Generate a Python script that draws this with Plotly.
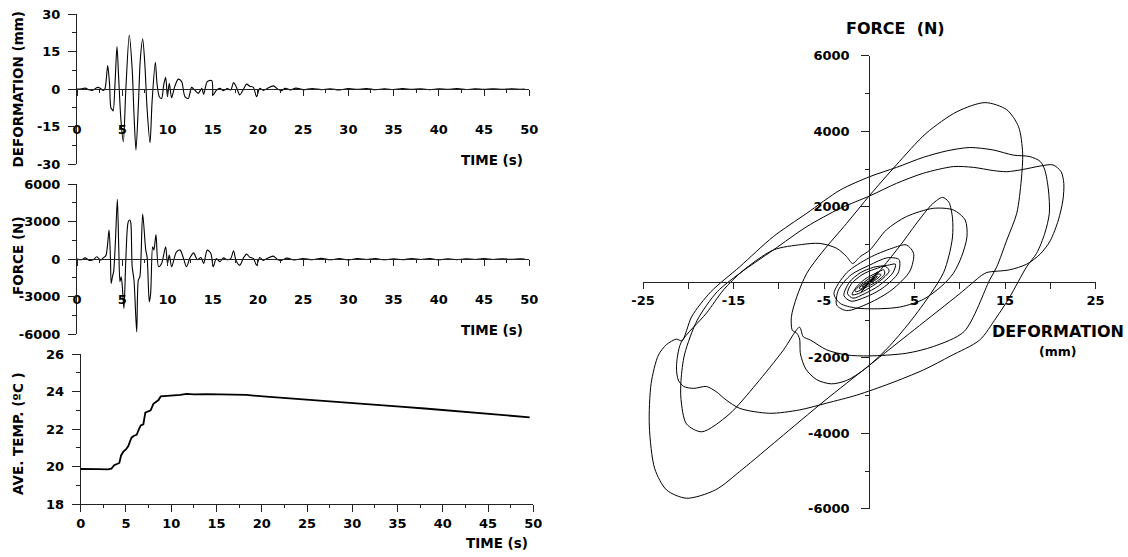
import plotly.graph_objects as go

W, H = 1128, 557

# ---------------- data ----------------
DEF_TIME = [0.0, 0.5, 0.9, 1.3, 1.7, 2.0, 2.3, 2.6, 2.9, 3.1, 3.39, 3.6, 3.75, 3.9, 4.0, 4.2, 4.42,
            4.6, 4.85, 5.12, 5.4, 5.78, 6.1, 6.3, 6.52, 6.8, 7.0, 7.26, 7.5, 7.75, 8.07, 8.3, 8.66,
            8.85, 9.1, 9.35, 9.6, 9.8, 10.0, 10.2, 10.46, 10.8, 11.2, 11.57, 11.93, 12.3, 12.67,
            13.0, 13.4, 13.8, 14.0, 14.4, 14.9, 15.06, 15.4, 15.8, 16.2, 16.6, 17.0, 17.3, 17.6,
            18.0, 18.4, 18.75, 19.1, 19.5, 19.85, 20.2, 20.6, 21.0, 21.7, 22.2, 22.6, 23.0, 23.6,
            24.2, 25.0, 26.0, 27.0, 28.0, 29.0, 30.0, 31.0, 32.0, 33.0, 34.0, 35.0, 36.0, 37.0,
            38.0, 39.0, 40.0, 41.0, 42.0, 43.0, 44.0, 45.0, 46.0, 47.0, 48.0, 49.0, 49.5]
DEF_MM = [0.0, 0.1, 0.4, -0.2, -0.5, 0.2, 0.7, 0.3, -0.5, 0.3, 9.4, 2.0, -7.5, -8.2, -8.7, 2.0, 17.0,
          5.0, -12.0, -21.0, 0.0, 21.6, 8.0, -10.0, -24.3, -5.0, 12.0, 20.0, 10.0, -8.0, -21.4, -5.0, 10.7,
          2.0, -3.0, -3.7, 2.0, 4.7, -3.0, 2.3, -3.4, 1.0, 4.0, 3.0, -3.0, -3.7, 0.7,
          -0.3, -1.7, 0.3, -2.1, 3.0, 3.4, -2.3, -0.5, 0.3, -0.6, 0.2, -0.3, 2.6, 1.0,
          -2.3, 0.0, 2.0, 1.2, 0.7, -3.0, 0.3, -0.5, 0.2, 1.3, 0.0, -0.6, 0.3, -0.3,
          0.4, -0.2, 0.2, -0.2, 0.1, -0.3, 0.2, -0.1, 0.25, -0.2, 0.1, -0.15, 0.2, -0.1,
          0.15, -0.2, 0.1, -0.1, 0.2, -0.15, 0.1, -0.1, 0.15, -0.1, 0.1, -0.05, 0.0]

FORCE_TIME = [0.0, 0.5, 0.9, 1.4, 1.8, 2.2, 2.6, 2.9, 3.2, 3.54, 3.7, 3.78, 3.93, 4.05, 4.25, 4.46,
              4.62, 4.75, 4.88, 5.0, 5.19, 5.4, 5.67, 5.85, 5.95, 6.1, 6.3, 6.6, 6.78, 6.95, 7.26,
              7.6, 7.75, 7.99, 8.14, 8.36, 8.5, 8.73, 9.02, 9.35, 9.8, 10.0, 10.2, 10.46, 10.8,
              11.0, 11.4, 11.8, 12.1, 12.5, 12.9, 13.3, 13.7, 14.0, 14.4, 14.8, 15.06, 15.4, 15.8,
              16.2, 16.6, 17.0, 17.3, 17.6, 18.0, 18.4, 18.75, 19.1, 19.5, 19.85, 20.2, 20.6, 21.0,
              21.7, 22.2, 22.6, 23.2, 24.0, 25.0, 26.0, 27.0, 28.0, 29.0, 30.0, 31.0, 32.0, 33.0,
              34.0, 35.0, 36.0, 37.0, 38.0, 39.0, 40.0, 41.0, 42.0, 43.0, 44.0, 45.0, 46.0, 47.0,
              48.0, 49.0, 49.5]
FORCE_N = [0, -50, 100, -100, -50, 190, -80, 100, 300, 2320, 0, -1950, -1350, -1000, 1500, 4770,
           800, -1800, -1400, -2100, -3950, 0, 2990, 3120, 2900, -600, -1680, -5810, -1680, -1400, 3600,
           720, 180, -3410, -2750, 990, 720, 1970, -610, -350, 990, -350, 320, -610, 200,
           590, 720, 0, -610, 130, 500, -50, 130, -350, 720, 450, -610, 50, -200,
           100, -50, 50, 670, -150, -480, 100, 400, 150, 50, -480, 130, -100, 50,
           240, -50, -100, 80, -60, 50, -40, 60, -50, 40, -60, 50, -30, 40,
           -50, 30, -40, 50, -30, 40, -50, 30, -40, 30, -30, 40, -30, 30,
           -20, 20, 0]

TEMP_TIME = [0.0, 1.0, 2.0, 3.0, 3.4, 3.7, 4.05, 4.27, 4.46, 4.71, 5.0, 5.26, 5.45, 5.63, 5.89,
             6.18, 6.44, 6.63, 6.92, 7.14, 7.47, 7.73, 8.03, 8.39, 8.6, 8.84, 9.5, 10.24, 11.0,
             11.7, 12.5, 13.9, 16.1, 18.3, 20.5, 22.5, 24.2, 26.0, 28.0, 29.75, 32.0, 35.28,
             38.0, 40.8, 43.0, 46.3, 48.0, 49.6]
TEMP_C = [19.88, 19.86, 19.87, 19.86, 19.9, 20.08, 20.15, 20.2, 20.6, 20.8, 20.92, 21.1, 21.35,
          21.56, 21.65, 21.7, 22.0, 22.2, 22.26, 22.88, 22.95, 23.0, 23.35, 23.45, 23.55, 23.75,
          23.76, 23.8, 23.82, 23.88, 23.85, 23.86, 23.85, 23.82, 23.73, 23.66, 23.59, 23.53,
          23.48, 23.43, 23.33, 23.2, 23.1, 22.99, 22.9, 22.76, 22.7, 22.63]

HYST_DEF_MM = [
    0.0, 0.5, 0.9, 0.4, -0.4, -0.9, -0.3, 0.4, 0.2,
    1.5, 3.5, 5.5, 7.0, 8.1, 8.8, 9.2, 9.2, 8.8, 8.2,
    6.8, 4.5, 2.0, -0.5, -2.5, -4.2, -5.8, -7.0, -7.6, -7.7, -8.0, -8.5,
    -8.6, -8.0, -6.9, -5.2, -2.5, 0.07, 3.0, 6.3, 9.7, 12.8, 15.2, 16.5, 16.95, 16.8, 16.3, 15.2, 14.1, 13.3,
    10.5, 7.1, 4.1, 0.0, -2.5, -4.7, -6.5, -7.3, -7.7,
    -9.5, -12.5, -15.5, -18.5, -20.2, -20.8, -20.8,
    -20.4, -19.0, -16.8, -14.3, -10.6, -6.9, -3.2, 0.07, 3.0, 6.0, 9.3, 11.5, 13.7, 15.2, 17.0, 18.9, 20.3, 21.2, 21.5,
    21.4, 20.9, 20.0, 18.9, 17.4, 15.5, 13.0, 12.4, 10.0, 5.0, 0.0, -5.0, -10.0, -14.0, -17.0, -20.2,
    -22.4, -23.7, -24.3, -24.1, -23.3, -22.4, -21.3, -20.7,
    -19.6, -17.5, -14.3, -10.6, -6.9, -3.2, 0.07, 3.02, 5.97, 8.55, 11.1, 13.7, 15.9, 17.75, 18.9, 19.4, 19.8, 19.9, 19.4, 18.5, 17.4,
    15.5, 14.0, 12.2, 9.0, 6.0, 2.3, -1.4, -4.7, -7.7, -11.0, -14.3, -15.8, -16.9, -18.0, -19.4, -20.5, -21.1, -21.3,
    -20.8, -18.0, -16.1, -14.0, -10.6, -7.5, -5.45, -3.6, -2.5, -1.84, -1.0, 0.07, 1.9, 4.1, 7.1, 9.3, 10.6, 10.8, 10.2, 9.3,
    8.0, 6.0, 3.5, 1.2, -1.5, -3.2, -3.9,
    -2.5, 0.0, 2.5, 4.1, 4.9, 4.5, 2.5, 0.0, -2.5, -3.6, -3.4, -2.0, 0.0, 2.0, 3.3, 3.2, 1.5, 0.0, -2.0, -2.8,
    -2.2, -1.0, 0.5, 2.0, 2.9, 2.6, 1.0, -0.5, -1.8, -2.4, -2.0, -0.8, 0.6, 1.8, 2.2, 1.4, 0.0, -1.2, -1.9,
    -1.5, -0.5, 0.8, 1.6, 1.7, 0.8, -0.5, -1.4, -1.6, -1.0, 0.0, 1.0, 1.3, 0.8, -0.3, -1.0, -1.1,
    -0.5, 0.4, 0.9, 0.7, 0.0, -0.7, -0.8, -0.3, 0.4, 0.6, 0.2, -0.3, -0.4, 0.0, 0.3, 0.0]
HYST_FORCE_N = [
    0, 150, 280, 120, -120, -260, -80, 100, 30,
    400, 1000, 1650, 2080, 2250, 2120, 1700, 1200, 700, 250,
    -300, -1050, -1750, -2300, -2600, -2690, -2580, -2300, -1900, -1500, -1350, -1270,
    -910, -380, 240, 800, 1560, 2310, 3110, 3950, 4520, 4760, 4570, 4120, 3420, 2710, 1830, 1120, 415, 60,
    -1300, -1700, -1880, -1950, -1925, -1790, -1530, -1440, -1190,
    -1800, -2700, -3500, -3960, -3750, -3100, -2600,
    -1900, -1000, -250, 240, 856, 1475, 1960, 2290, 2620, 2890, 3065, 3045, 2960, 2930, 2990, 3080, 3110, 2930, 2620,
    2180, 1650, 1100, 750, 480, 330, 260, 180, -300, -1250, -2200, -3150, -4150, -4950, -5500, -5720,
    -5500, -4940, -3810, -2680, -1930, -1650, -1505, -1550,
    -900, -250, 414, 1210, 1830, 2445, 2800, 3045, 3310, 3480, 3570, 3505, 3370, 3330, 3200, 2975, 2445, 1830, 1300, 770, 415,
    -400, -950, -1530, -1950, -2320, -2680, -2990, -3200, -3380, -3470, -3340, -3120, -2900, -2760, -2810, -2760, -2590, -2240,
    -1600, -820, -200, 300, 856, 1000, 1030, 900, 680, 500, 680, 856, 1390, 1740, 1960, 1915, 1650, 1210, 680, 240,
    -100, -450, -650, -700, -680, -560, -300,
    250, 650, 900, 990, 770, 300, -200, -550, -750, -600, -200, 200, 450, 650, 600, 250, -150, -350, -500, -350,
    0, 250, 400, 450, 480, 250, -100, -300, -420, -300, -50, 200, 350, 420, 300, 80, -150, -300, -330,
    -150, 80, 250, 330, 220, 20, -150, -250, -230, -80, 100, 220, 200, 80, -80, -180, -150,
    -30, 100, 160, 100, -20, -120, -110, -20, 80, 100, 30, -50, -60, 0, 40, 0]

TIME_TICKS = [0, 5, 10, 15, 20, 25, 30, 35, 40, 45, 50]
DEF_TICKS = [-30, -15, 0, 15, 30]
FORCE_TICKS = [-6000, -3000, 0, 3000, 6000]
TEMP_TICKS = [18, 20, 22, 24, 26]
HYST_X_TICKS = [-25, -15, -5, 5, 15, 25]
HYST_Y_TICKS = [-6000, -4000, -2000, 2000, 4000, 6000]


# ---------------- helpers ----------------
def px_x(p):
    return p / W


def px_y(p):
    return 1 - p / H


FONT = "DejaVu Sans"
AXC = "#222222"
TICKFONT = dict(family=FONT, size=13, color="black", weight="bold")


def xaxis_cfg(dom, rng, vals, **kw):
    d = dict(domain=dom, range=rng, tickmode="array", tickvals=vals,
             ticktext=[str(v) for v in vals], showline=True, linecolor=AXC, linewidth=1,
             ticks="outside", ticklen=6, tickwidth=1, tickcolor=AXC, showgrid=False,
             zeroline=False, tickfont=TICKFONT, fixedrange=True, automargin=False)
    d.update(kw)
    return d


def yaxis_cfg(dom, rng, vals, minor_dtick, **kw):
    d = dict(domain=dom, range=rng, tickmode="array", tickvals=vals,
             ticktext=[str(v) for v in vals], showline=True, linecolor=AXC, linewidth=1,
             ticks="outside", ticklen=8, tickwidth=1, tickcolor=AXC, showgrid=False,
             zeroline=False, tickfont=TICKFONT, fixedrange=True, automargin=False,
             ticklabelstandoff=5,
             minor=dict(tickmode="linear", tick0=0, dtick=minor_dtick, ticks="outside",
                        ticklen=4, tickcolor=AXC, showgrid=False))
    d.update(kw)
    return d


# panel geometry (pixels)
TOP_Y = [px_y(164.3), px_y(14)]
MID_Y = [px_y(334.3), px_y(184)]
BOT_Y = [px_y(504.3), px_y(354)]
LEFT_X = [px_x(77), px_x(529.3)]
BOT_X = [px_x(80.7), px_x(533.3)]
R_X = [px_x(643), px_x(1095.5)]
R_Y = [px_y(508.8), px_y(55.8)]

minor_time = dict(tickmode="linear", tick0=0, dtick=2.5, ticks="outside", ticklen=3,
                  tickcolor=AXC, showgrid=False)

fig = go.Figure()

fig.add_trace(go.Scatter(x=DEF_TIME, y=DEF_MM, mode="lines",
                         line=dict(color="black", width=1.1, shape="spline", smoothing=0.8),
                         xaxis="x", yaxis="y", hoverinfo="skip"))
fig.add_trace(go.Scatter(x=FORCE_TIME, y=FORCE_N, mode="lines",
                         line=dict(color="black", width=1.1, shape="spline", smoothing=0.8),
                         xaxis="x2", yaxis="y2", hoverinfo="skip"))
fig.add_trace(go.Scatter(x=TEMP_TIME, y=TEMP_C, mode="lines", line=dict(color="black", width=1.8),
                         xaxis="x3", yaxis="y3", hoverinfo="skip"))
fig.add_trace(go.Scatter(x=HYST_DEF_MM, y=HYST_FORCE_N, mode="lines",
                         line=dict(color="black", width=1, shape="spline", smoothing=0.8),
                         xaxis="x4", yaxis="y4", hoverinfo="skip"))

fig.update_layout(
    width=W, height=H, margin=dict(l=0, r=0, t=0, b=0, autoexpand=False),
    paper_bgcolor="white", plot_bgcolor="white", showlegend=False,
    xaxis=xaxis_cfg(LEFT_X, [0, 50], TIME_TICKS, anchor="free",
                    position=(TOP_Y[0] + TOP_Y[1]) / 2, ticklabelstandoff=22, minor=minor_time),
    yaxis=yaxis_cfg(TOP_Y, [-30, 30], DEF_TICKS, 7.5, anchor="x"),
    xaxis2=xaxis_cfg(LEFT_X, [0, 50], TIME_TICKS, anchor="free",
                     position=(MID_Y[0] + MID_Y[1]) / 2, ticklabelstandoff=22, minor=minor_time),
    yaxis2=yaxis_cfg(MID_Y, [-6000, 6000], FORCE_TICKS, 1500, anchor="x2"),
    xaxis3=xaxis_cfg(BOT_X, [0, 50], TIME_TICKS, anchor="y3", ticklen=7, minor=minor_time),
    yaxis3=yaxis_cfg(BOT_Y, [18, 26], TEMP_TICKS, 1, anchor="x3"),
    xaxis4=xaxis_cfg(R_X, [-25, 25], HYST_X_TICKS, anchor="free",
                     position=(R_Y[0] + R_Y[1]) / 2,
                     minor=dict(tickmode="array", tickvals=[-20, -10, 0, 10, 20], ticks="outside",
                                ticklen=6, tickcolor=AXC, showgrid=False)),
    yaxis4=yaxis_cfg(R_Y, [-6000, 6000], HYST_Y_TICKS, 1000, anchor="free",
                     position=(R_X[0] + R_X[1]) / 2, ticklabelstandoff=9),
)

ann = []


def add_ann(text, x, y, size=13.5, angle=0, xanchor="center"):
    ann.append(dict(text=text, x=px_x(x), y=px_y(y), xref="paper", yref="paper",
                    showarrow=False, textangle=angle, xanchor=xanchor, yanchor="middle",
                    font=dict(family=FONT, size=size, color="black", weight="bold")))


add_ann("DEFORMATION (mm)", 17.5, 89, angle=-90)
add_ann("FORCE (N)", 18, 256, angle=-90)
add_ann("AVE. TEMP. (ºC )", 18, 434, angle=-90)
add_ann("TIME (s)", 525, 160, xanchor="right")
add_ann("TIME (s)", 525, 330, xanchor="right")
add_ann("TIME (s)", 530, 543, xanchor="right")
add_ann("FORCE  (N)", 895, 28, size=16)
add_ann("DEFORMATION", 1058, 331, size=16)
add_ann("(mm)", 1057, 351.5, size=12.5)
fig.update_layout(annotations=ann)

fig.write_html("out.html", config={"displayModeBar": False, "staticPlot": True},
               post_script="document.body.style.margin='0';document.body.style.overflow='hidden';")
